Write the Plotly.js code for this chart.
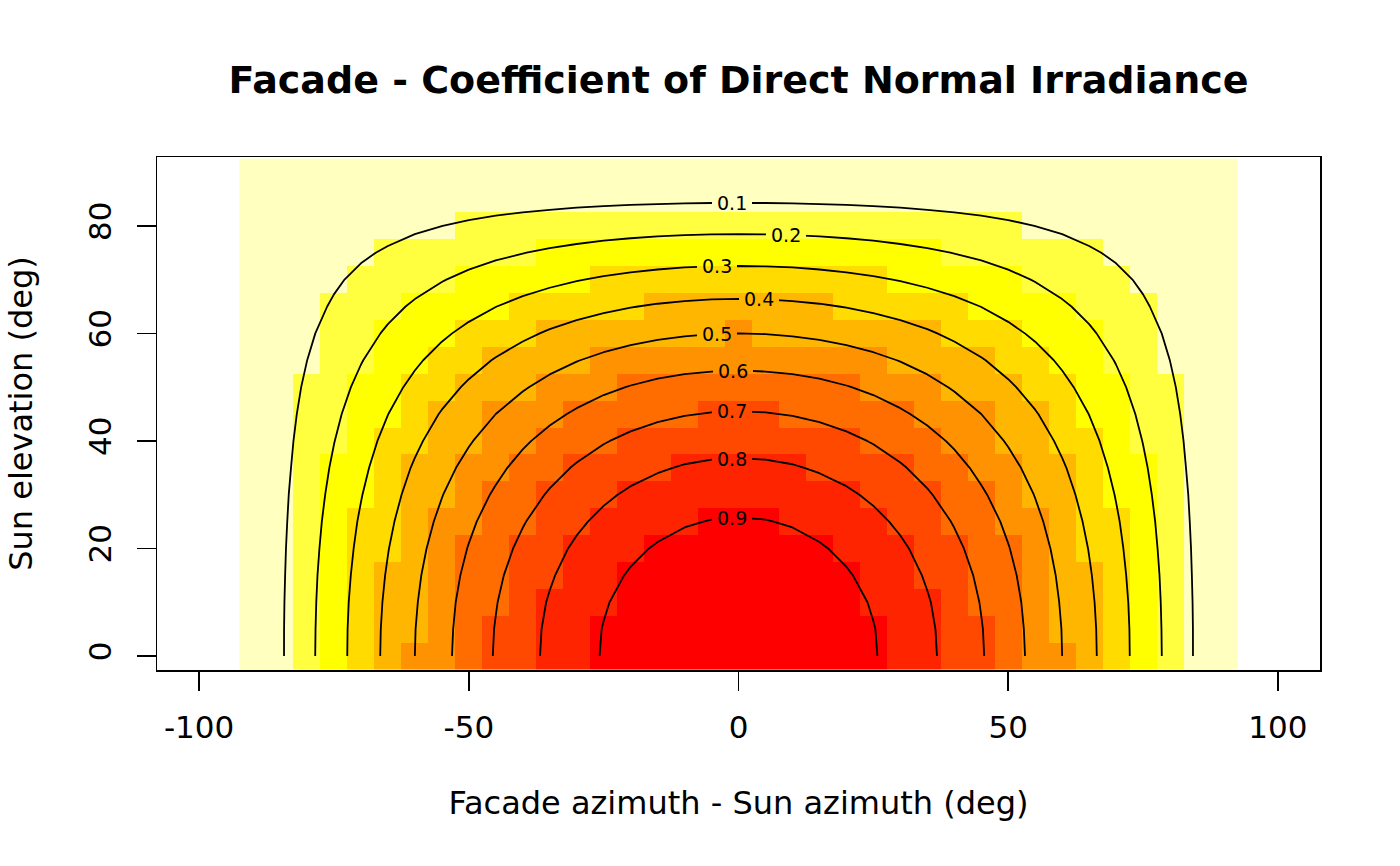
<!DOCTYPE html>
<html><head><meta charset="utf-8">
<script src="https://cdn.plot.ly/plotly-3.0.1.min.js"></script>
<style>html,body{margin:0;padding:0;background:#fff}#chart{width:1400px;height:866px}</style>
</head><body><div id="chart"></div>
<script>
// ---- data ----
const azimuth = [-90,-85,-80,-75,-70,-65,-60,-55,-50,-45,-40,-35,-30,-25,-20,-15,-10,-5,0,5,10,15,20,25,30,35,40,45,50,55,60,65,70,75,80,85,90];
const elevation = [0,5,10,15,20,25,30,35,40,45,50,55,60,65,70,75,80,85,90];
const coefE0  = [0,.087,.174,.259,.342,.423,.5,.574,.643,.707,.766,.819,.866,.906,.940,.966,.985,.996,1,.996,.985,.966,.940,.906,.866,.819,.766,.707,.643,.574,.5,.423,.342,.259,.174,.087,0];
const coefE5  = [0,.087,.173,.258,.341,.421,.498,.571,.640,.704,.763,.816,.863,.903,.936,.962,.981,.992,.996,.992,.981,.962,.936,.903,.863,.816,.763,.704,.640,.571,.498,.421,.341,.258,.173,.087,0];
const coefE10 = [0,.086,.171,.255,.337,.416,.492,.565,.633,.696,.754,.807,.853,.893,.925,.951,.970,.981,.985,.981,.970,.951,.925,.893,.853,.807,.754,.696,.633,.565,.492,.416,.337,.255,.171,.086,0];
const coefE15 = [0,.084,.168,.250,.330,.408,.483,.554,.621,.683,.740,.791,.836,.875,.908,.933,.951,.962,.966,.962,.951,.933,.908,.875,.836,.791,.740,.683,.621,.554,.483,.408,.330,.250,.168,.084,0];
const coefE20 = [0,.082,.163,.243,.321,.397,.470,.539,.604,.664,.720,.770,.814,.852,.883,.908,.925,.936,.940,.936,.925,.908,.883,.852,.814,.770,.720,.664,.604,.539,.470,.397,.321,.243,.163,.082,0];
const coefE25 = [0,.079,.157,.235,.310,.383,.453,.520,.583,.641,.694,.742,.785,.821,.852,.875,.893,.903,.906,.903,.893,.875,.852,.821,.785,.742,.694,.641,.583,.520,.453,.383,.310,.235,.157,.079,0];
const coefE30 = [0,.076,.150,.224,.296,.366,.433,.497,.557,.612,.663,.709,.750,.785,.814,.836,.853,.863,.866,.863,.853,.836,.814,.785,.750,.709,.663,.612,.557,.497,.433,.366,.296,.224,.150,.076,0];
const coefE35 = [0,.071,.142,.212,.280,.346,.410,.470,.527,.579,.628,.671,.709,.742,.770,.791,.807,.816,.819,.816,.807,.791,.770,.742,.709,.671,.628,.579,.527,.470,.410,.346,.280,.212,.142,.071,0];
const coefE40 = [0,.067,.133,.198,.262,.324,.383,.439,.492,.542,.587,.628,.663,.694,.720,.740,.754,.763,.766,.763,.754,.740,.720,.694,.663,.628,.587,.542,.492,.439,.383,.324,.262,.198,.133,.067,0];
const coefE45 = [0,.062,.123,.183,.242,.299,.354,.406,.455,.5,.542,.579,.612,.641,.664,.683,.696,.704,.707,.704,.696,.683,.664,.641,.612,.579,.542,.5,.455,.406,.354,.299,.242,.183,.123,.062,0];
const coefE50 = [0,.056,.112,.166,.220,.272,.321,.369,.413,.455,.492,.527,.557,.583,.604,.621,.633,.640,.643,.640,.633,.621,.604,.583,.557,.527,.492,.455,.413,.369,.321,.272,.220,.166,.112,.056,0];
const coefE55 = [0,.050,.0996,.148,.196,.242,.287,.329,.369,.406,.439,.470,.497,.520,.539,.554,.565,.571,.574,.571,.565,.554,.539,.520,.497,.470,.439,.406,.369,.329,.287,.242,.196,.148,.0996,.050,0];
const coefE60 = [0,.044,.087,.129,.171,.211,.250,.287,.321,.354,.383,.410,.433,.453,.470,.483,.492,.498,.5,.498,.492,.483,.470,.453,.433,.410,.383,.354,.321,.287,.250,.211,.171,.129,.087,.044,0];
const coefE65 = [0,.037,.073,.109,.145,.179,.211,.242,.272,.299,.324,.346,.366,.383,.397,.408,.416,.421,.423,.421,.416,.408,.397,.383,.366,.346,.324,.299,.272,.242,.211,.179,.145,.109,.073,.037,0];
const coefE70 = [0,.030,.059,.089,.117,.145,.171,.196,.220,.242,.262,.280,.296,.310,.321,.330,.337,.341,.342,.341,.337,.330,.321,.310,.296,.280,.262,.242,.220,.196,.171,.145,.117,.089,.059,.030,0];
const coefE75 = [0,.023,.045,.067,.089,.109,.129,.148,.166,.183,.198,.212,.224,.235,.243,.250,.255,.258,.259,.258,.255,.250,.243,.235,.224,.212,.198,.183,.166,.148,.129,.109,.089,.067,.045,.023,0];
const coefE80 = [0,.015,.030,.045,.059,.073,.087,.0996,.112,.123,.133,.142,.150,.157,.163,.168,.171,.173,.174,.173,.171,.168,.163,.157,.150,.142,.133,.123,.112,.0996,.087,.073,.059,.045,.030,.015,0];
const coefE85 = [0,.008,.015,.023,.030,.037,.044,.050,.056,.062,.067,.071,.076,.079,.082,.084,.086,.087,.087,.087,.086,.084,.082,.079,.076,.071,.067,.062,.056,.050,.044,.037,.030,.023,.015,.008,0];
const coefE90 = [0,0,0,0,0,0,0,0,0,0,0,0,0,0,0,0,0,0,0,0,0,0,0,0,0,0,0,0,0,0,0,0,0,0,0,0,0];
const contourLevels = [0.1,0.2,0.3,0.4,0.5,0.6,0.7,0.8,0.9];
const contourLabels = ['0.1','0.2','0.3','0.4','0.5','0.6','0.7','0.8','0.9'];
const xTicks = [-100,-50,0,50,100];
const yTicks = [0,20,40,60,80];

// ---- built from the arrays above ----
const coef = [coefE0,coefE5,coefE10,coefE15,coefE20,coefE25,coefE30,coefE35,coefE40,coefE45,
              coefE50,coefE55,coefE60,coefE65,coefE70,coefE75,coefE80,coefE85,coefE90];

// styling
const binColors = ['#FFFFBF','#FFFF40','#FFFF00','#FFDB00','#FFB600','#FF9200','#FF6D00','#FF4900','#FF2400','#FF0000'];
const colorscale = [];
binColors.forEach((c,i)=>{ colorscale.push([i/10,c]); colorscale.push([(i+1)/10,c]); });
const FONT = 'DejaVu Sans, Liberation Sans, sans-serif';
const X_RANGE = [-107.8, 107.8];
const Y_RANGE = [-2.6, 92.8];
const M = {l:157, r:80, t:157, b:196};
const plotW = 1400 - M.l - M.r, plotH = 866 - M.t - M.b;
const pxPerX = plotW / (X_RANGE[1]-X_RANGE[0]);
const pxPerY = plotH / (Y_RANGE[1]-Y_RANGE[0]);
// label placement azimuths (layout choice, like R's contour label positions)
const labelAzimuth = [-1.25, 8.8, -3.9, 3.8, -3.9, -1.1, -1.25, -1.25, -1.25];

function crossingOnColumn(j, level){
  for(let i=elevation.length-1;i>0;i--){
    const z1 = coef[i][j], z0 = coef[i-1][j];
    if(z1 < level && z0 >= level){
      return elevation[i-1] + (elevation[i]-elevation[i-1])*(z0-level)/(z0-z1);
    }
  }
  return null;
}
function labelElevation(az, level){
  let j=0;
  while(j<azimuth.length-2 && azimuth[j+1] < az) j++;
  const a = crossingOnColumn(j, level), b = crossingOnColumn(j+1, level);
  const t = (az-azimuth[j])/(azimuth[j+1]-azimuth[j]);
  return a + (b-a)*t;
}

const heatBase = {type:'heatmap', x:azimuth, y:elevation, z:coef, colorscale:colorscale,
  zmin:0, zmax:1, showscale:false, hoverinfo:'skip', zsmooth:false};

const traces = [
  Object.assign({}, heatBase),
  {type:'contour', x:azimuth, y:elevation, z:coef, showscale:false, hoverinfo:'skip',
   contours:{start:contourLevels[0], end:contourLevels[contourLevels.length-1], size:0.1, coloring:'none', showlabels:false},
   line:{color:'#000', width:1.8, smoothing:0}}
];

const layout = {
  width:1400, height:866,
  margin:M,
  paper_bgcolor:'#fff', plot_bgcolor:'rgba(0,0,0,0)',
  showlegend:false,
  title:{text:'Facade - Coefficient of Direct Normal Irradiance', font:{family:FONT, size:38, color:'#000', weight:'bold'},
    xref:'paper', x:0.5, xanchor:'center', yref:'container', y:1-80/866, yanchor:'middle'},
  xaxis:{range:X_RANGE, tickvals:xTicks, ticktext:xTicks.map(String), ticks:'outside', ticklen:19, tickwidth:1.5, tickcolor:'#000',
    showline:true, mirror:true, linecolor:'#000', linewidth:1.5, showgrid:false, zeroline:false,
    tickfont:{family:FONT, size:31, color:'#000'}, ticklabelstandoff:10,
    title:{text:'Facade azimuth - Sun azimuth (deg)', font:{family:FONT, size:32, color:'#000'}, standoff:48}},
  yaxis:{range:Y_RANGE, tickvals:yTicks, ticktext:yTicks.map(String), ticks:'outside', ticklen:19, tickwidth:1.5, tickcolor:'#000',
    showline:true, mirror:true, linecolor:'#000', linewidth:1.5, showgrid:false, zeroline:false, tickangle:-90,
    tickfont:{family:FONT, size:31, color:'#000'}, ticklabelstandoff:13,
    title:{text:'Sun elevation (deg)', font:{family:FONT, size:32, color:'#000'}, standoff:40}},
  annotations:[]
};

// label gaps: tiny subplots repaint the heatmap over each label box, hiding the contour line there
contourLevels.forEach((lev,k)=>{
  const ax = labelAzimuth[k];
  const ay = labelElevation(ax, lev);
  const id = k+2;
  // snap the gap box to whole pixels
  const cx = (ax - X_RANGE[0])*pxPerX, cy = (ay - Y_RANGE[0])*pxPerY;
  const left = Math.round(cx-20), bottom = Math.round(cy-10);
  const pxX = [left, left+40], pxY = [bottom, bottom+20];
  const xr = pxX.map(p=>X_RANGE[0]+p/pxPerX), yr = pxY.map(p=>Y_RANGE[0]+p/pxPerY);
  layout['xaxis'+id] = {domain:pxX.map(p=>p/plotW), range:xr, visible:false, fixedrange:true, anchor:'y'+id};
  layout['yaxis'+id] = {domain:pxY.map(p=>p/plotH), range:yr, visible:false, fixedrange:true, anchor:'x'+id};
  traces.push(Object.assign({}, heatBase, {xaxis:'x'+id, yaxis:'y'+id}));
  layout.annotations.push({x:ax, y:ay, xref:'x', yref:'y', text:contourLabels[k], showarrow:false,
    xanchor:'center', yanchor:'middle', font:{family:FONT, size:19, color:'#000'}});
});

Plotly.newPlot('chart', traces, layout, {displayModeBar:false, staticPlot:true});
</script>
</body></html>
